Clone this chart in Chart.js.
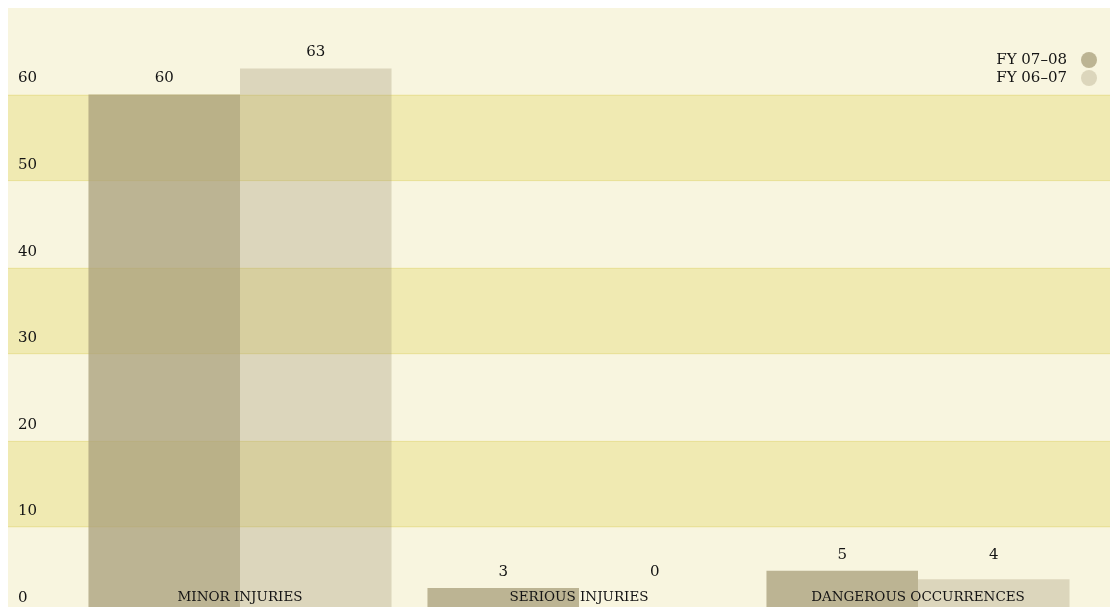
<!DOCTYPE html>
<html>
<head>
<meta charset="utf-8">
<script src="https://cdn.jsdelivr.net/npm/chart.js@4/dist/chart.umd.min.js"></script>
<style>
  html, body { margin: 0; padding: 0; overflow: hidden; background: #fff; }
  #wrap { position: absolute; left: 8px; top: 8px; width: 1102px; height: 606px; }
</style>
</head>
<body>
<div id="wrap"><canvas id="incidents-chart"></canvas></div>
<script>
  // chart data
  const categories = ['MINOR INJURIES', 'SERIOUS INJURIES', 'DANGEROUS OCCURRENCES'];
  const seriesNames = ['FY 07–08', 'FY 06–07'];
  const fy0708 = [60, 3, 5];
  const fy0607 = [63, 0, 4];
  const yTicks = [0, 10, 20, 30, 40, 50, 60];
  const bands = [[10, 20], [30, 40], [50, 60]];

  const CREAM = '#f8f5df';
  const BAND = '#f0eab2';
  const BAND_LINE = '#e9e199';
  const TEXT = '#141414';
  const SERIF = '"DejaVu Serif", "Liberation Serif", serif';

  // background + horizontal bands across the whole card
  const bandsPlugin = {
    id: 'bands',
    beforeDatasetsDraw(chart) {
      const { ctx, width, height } = chart;
      const y = chart.scales.y;
      ctx.save();
      ctx.fillStyle = CREAM;
      ctx.fillRect(0, 0, width, height);
      bands.forEach(([lo, hi]) => {
        const top = y.getPixelForValue(hi);
        const bot = y.getPixelForValue(lo);
        ctx.fillStyle = BAND;
        ctx.fillRect(0, top, width, bot - top);
        ctx.fillStyle = BAND_LINE;
        ctx.fillRect(0, Math.round(top), width, 1);
        ctx.fillRect(0, Math.round(bot) - 1, width, 1);
      });
      ctx.restore();
    }
  };

  // y labels, value labels, category labels and legend
  const labelsPlugin = {
    id: 'labels',
    afterDatasetsDraw(chart) {
      const { ctx, width } = chart;
      const x = chart.scales.x;
      const y = chart.scales.y;
      const base = y.getPixelForValue(0);
      ctx.save();
      ctx.fillStyle = TEXT;
      ctx.textBaseline = 'middle';

      // y tick labels, sitting just above each line
      ctx.font = '15px ' + SERIF;
      ctx.textAlign = 'left';
      yTicks.forEach(v => {
        ctx.fillText(String(v), 10, y.getPixelForValue(v) - 16);
      });

      // value labels above the bars (small bars share a floor line)
      ctx.textAlign = 'center';
      chart.data.datasets.forEach((ds, di) => {
        const meta = chart.getDatasetMeta(di);
        meta.data.forEach((bar, i) => {
          let ly = Math.min(bar.y - 16, base - 42);
          if (ds.data[i] < 10) {
            // pair the label with the taller neighbour in the same group
            const other = chart.getDatasetMeta(1 - di).data[i];
            ly = Math.min(ly, other.y - 16);
          }
          ctx.fillText(String(ds.data[i]), bar.x, ly);
        });
      });

      // category names along the bottom
      ctx.font = '13.5px ' + SERIF;
      categories.forEach((c, i) => {
        ctx.fillText(c, x.getPixelForValue(i), base - 17);
      });

      // legend, top right
      ctx.font = '15px ' + SERIF;
      ctx.textAlign = 'right';
      chart.data.datasets.forEach((ds, di) => {
        const ly = 52 + di * 18;
        ctx.fillStyle = TEXT;
        ctx.fillText(ds.label, width - 43, ly);
        ctx.fillStyle = CREAM;
        ctx.beginPath();
        ctx.arc(width - 21, ly, 8, 0, Math.PI * 2);
        ctx.fill();
        ctx.fillStyle = ds.backgroundColor;
        ctx.fill();
      });
      ctx.restore();
    }
  };

  new Chart(document.getElementById('incidents-chart'), {
    type: 'bar',
    data: {
      labels: categories,
      datasets: [
        { label: seriesNames[0], data: fy0708, backgroundColor: 'rgba(168, 158, 122, 0.75)' },
        { label: seriesNames[1], data: fy0607, backgroundColor: 'rgba(168, 158, 122, 0.35)' }
      ]
    },
    options: {
      responsive: true,
      maintainAspectRatio: false,
      animation: false,
      layout: { padding: { left: 62.5, right: 22.5, top: 0, bottom: 0 } },
      datasets: { bar: { categoryPercentage: 0.894, barPercentage: 1, borderWidth: 0 } },
      plugins: { legend: { display: false }, tooltip: { enabled: false } },
      scales: {
        x: { display: false, grid: { display: false } },
        y: { display: false, min: 0, max: 70, grid: { display: false } }
      }
    },
    plugins: [bandsPlugin, labelsPlugin]
  });
</script>
</body>
</html>
